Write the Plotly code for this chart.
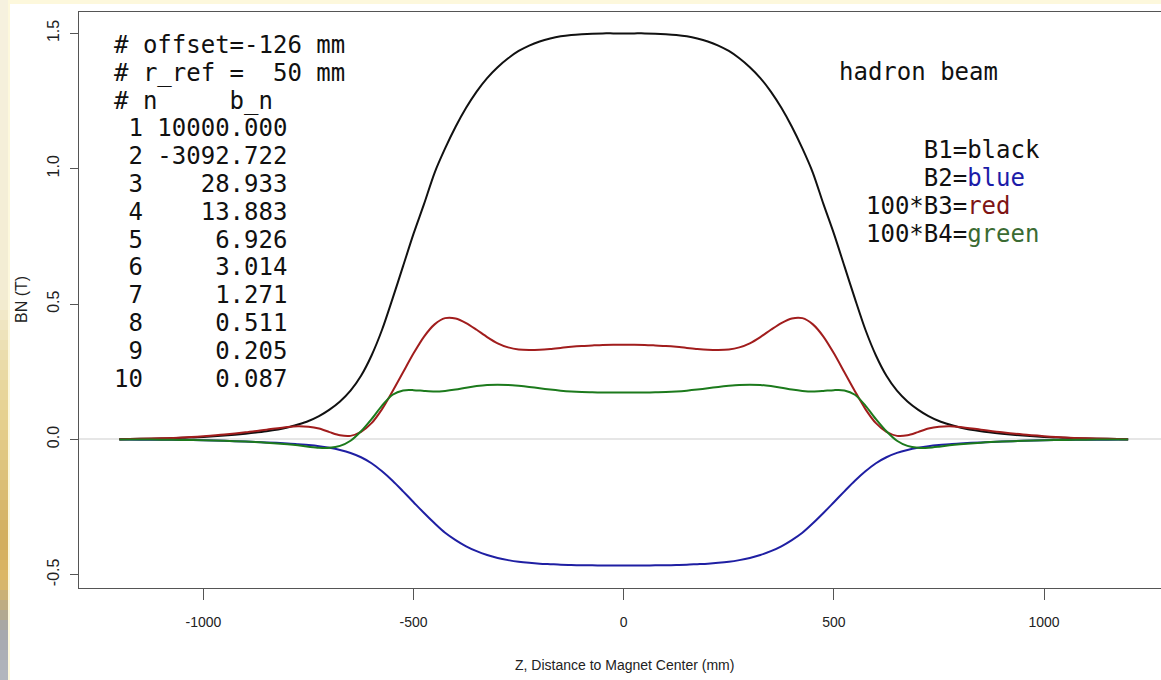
import plotly.graph_objects as go

# Longitudinal positions (mm from magnet centre)
z_mm = [-1200, -1150, -1100, -1050, -1000, -950, -900, -850, -800,
        -775, -750, -725, -700, -675, -650, -625, -600, -575, -550, -525, -500,
        -475, -450, -425, -400, -375, -350, -325, -300, -275, -250, -225, -200,
        -175, -150, -125, -100, -75, -50, -25, 0,
        25, 50, 75, 100, 125, 150, 175, 200, 225, 250, 275, 300, 325, 350, 375,
        400, 425, 450, 475, 500, 525, 550, 575, 600, 625, 650, 675, 700, 725,
        750, 775, 800, 850, 900, 950, 1000, 1050, 1100, 1150, 1200]

# B1 (dipole), tesla
b1 = [0.001, 0.002, 0.003, 0.006, 0.009, 0.014, 0.021, 0.030, 0.044,
      0.055, 0.068, 0.086, 0.110, 0.140, 0.180, 0.235, 0.310, 0.405, 0.520, 0.640, 0.760,
      0.870, 0.985, 1.075, 1.155, 1.225, 1.285, 1.335, 1.375, 1.408, 1.435, 1.455, 1.470,
      1.481, 1.489, 1.494, 1.497, 1.499, 1.500, 1.500, 1.500,
      1.500, 1.500, 1.499, 1.497, 1.494, 1.489, 1.481, 1.470, 1.455, 1.435, 1.408, 1.375,
      1.335, 1.285, 1.225, 1.155, 1.075, 0.985, 0.870, 0.760, 0.640, 0.520, 0.405, 0.310,
      0.235, 0.180, 0.140, 0.110, 0.086, 0.068, 0.055,
      0.044, 0.030, 0.021, 0.014, 0.009, 0.006, 0.003, 0.002, 0.001]

# B2 (quadrupole), tesla
b2 = [0.000, -0.001, -0.001, -0.002, -0.003, -0.005, -0.008, -0.011, -0.015,
      -0.018, -0.021, -0.025, -0.031, -0.039, -0.050, -0.066, -0.088, -0.118, -0.153, -0.192, -0.232,
      -0.272, -0.310, -0.345, -0.372, -0.395, -0.413, -0.427, -0.438, -0.446, -0.452, -0.456, -0.459,
      -0.461, -0.463, -0.464, -0.465, -0.465, -0.466, -0.466, -0.466,
      -0.466, -0.466, -0.465, -0.465, -0.464, -0.463, -0.461, -0.459, -0.456, -0.452, -0.446, -0.438,
      -0.427, -0.413, -0.395, -0.372, -0.345, -0.310, -0.272, -0.232, -0.192, -0.153, -0.118, -0.088,
      -0.066, -0.050, -0.039, -0.031, -0.025, -0.021, -0.018,
      -0.015, -0.011, -0.008, -0.005, -0.003, -0.002, -0.001, -0.001, 0.000]

# 100 * B3 (sextupole), tesla
b3x100 = [0.001, 0.002, 0.004, 0.007, 0.012, 0.018, 0.026, 0.036, 0.046,
          0.049, 0.047, 0.040, 0.027, 0.015, 0.013, 0.028, 0.060, 0.112, 0.178, 0.248, 0.318,
          0.380, 0.425, 0.448, 0.447, 0.430, 0.405, 0.378, 0.355, 0.340, 0.332, 0.330, 0.331,
          0.334, 0.338, 0.342, 0.345, 0.347, 0.349, 0.350, 0.350,
          0.350, 0.349, 0.347, 0.345, 0.342, 0.338, 0.334, 0.331, 0.330, 0.332, 0.340, 0.355,
          0.378, 0.405, 0.430, 0.447, 0.448, 0.425, 0.380, 0.318, 0.248, 0.178, 0.112, 0.060,
          0.028, 0.013, 0.015, 0.027, 0.040, 0.047, 0.049,
          0.046, 0.036, 0.026, 0.018, 0.012, 0.007, 0.004, 0.002, 0.001]

# 100 * B4 (octupole), tesla
b4x100 = [0.000, 0.000, -0.001, -0.002, -0.003, -0.005, -0.008, -0.012, -0.018,
          -0.022, -0.027, -0.031, -0.031, -0.024, -0.005, 0.030, 0.075, 0.125, 0.165, 0.181, 0.182,
          0.179, 0.177, 0.179, 0.184, 0.191, 0.197, 0.201, 0.202, 0.201, 0.198, 0.194, 0.189,
          0.184, 0.180, 0.177, 0.175, 0.174, 0.173, 0.173, 0.173,
          0.173, 0.173, 0.174, 0.175, 0.177, 0.180, 0.184, 0.189, 0.194, 0.198, 0.201, 0.202,
          0.201, 0.197, 0.191, 0.184, 0.179, 0.177, 0.179, 0.182, 0.181, 0.165, 0.125, 0.075,
          0.030, -0.005, -0.024, -0.031, -0.031, -0.027, -0.022,
          -0.018, -0.012, -0.008, -0.005, -0.003, -0.002, -0.001, 0.000, 0.000]

x_ticks = [-1000, -500, 0, 500, 1000]
x_tick_text = ["-1000", "-500", "0", "500", "1000"]
y_ticks = [-0.5, 0.0, 0.5, 1.0, 1.5]
y_tick_text = ["-0.5", "0.0", "0.5", "1.0", "1.5"]

header_lines = ["# offset=-126 mm", "# r_ref =  50 mm", "# n     b_n"]
harmonic_n = [1, 2, 3, 4, 5, 6, 7, 8, 9, 10]
harmonic_bn = ["10000.000", "-3092.722", "28.933", "13.883", "6.926",
               "3.014", "1.271", "0.511", "0.205", "0.087"]

beam_label = "hadron beam"
legend_entries = [("    B1=", "black", "#111111"),
                  ("    B2=", "blue", "#1c1ca8"),
                  ("100*B3=", "red", "#7e1414"),
                  ("100*B4=", "green", "#3b6b33")]

series = [(b1, "#111111"), (b2, "#1f1fa3"), (b3x100, "#a11d1d"), (b4x100, "#1c7a1c")]

W, H = 1161, 680
L, T, R, B = 79, 12, 0, 92
PW, PH = W - L - R, H - T - B


def fx(px):
    return (px - L) / PW


def fy(py):
    return 1 - (py - T) / PH


def nb(s):
    return s.replace(" ", "\u00a0")


fig = go.Figure()
for vals, col in series:
    fig.add_trace(go.Scatter(x=z_mm, y=vals, mode="lines",
                             line=dict(color=col, width=2, shape="spline", smoothing=0.8),
                             showlegend=False, hoverinfo="skip"))

mono = dict(family="DejaVu Sans Mono", size=24, color="#111111")
ann = []
rows = header_lines + [f"{n:>2} {v:>9}" for n, v in zip(harmonic_n, harmonic_bn)]
for i, txt in enumerate(rows):
    ann.append(dict(x=fx(112), y=fy(45 + 27.8 * i), xref="paper", yref="paper",
                    text=nb(txt), showarrow=False, xanchor="left", yanchor="middle",
                    font=mono))
ann.append(dict(x=fx(837), y=fy(72), xref="paper", yref="paper", text=nb(beam_label),
                showarrow=False, xanchor="left", yanchor="middle", font=mono))
for i, (pre, word, col) in enumerate(legend_entries):
    ann.append(dict(x=fx(864), y=fy(150 + 28 * i), xref="paper", yref="paper",
                    text=nb(pre) + f'<span style="color:{col}">{word}</span>',
                    showarrow=False, xanchor="left", yanchor="middle", font=mono))

ann.append(dict(x=fx(624), y=fy(665), xref="paper", yref="paper",
                text="Z, Distance to Magnet Center (mm)", showarrow=False,
                xanchor="center", yanchor="middle",
                font=dict(family="Liberation Sans, Arial", size=14, color="#222222")))
ann.append(dict(x=fx(21), y=fy(300), xref="paper", yref="paper", text="BN (T)",
                textangle=-90, showarrow=False, xanchor="center", yanchor="middle",
                font=dict(family="Liberation Sans, Arial", size=16, color="#222222")))

# slide frame: pale border and a warm strip along the left edge
shapes = [dict(type="rect", xref="paper", yref="paper", x0=fx(0), x1=fx(W), y0=fy(4), y1=fy(0),
               fillcolor="#fdf8dc", line=dict(width=0), layer="below"),
          dict(type="rect", xref="paper", yref="paper", x0=fx(0), x1=fx(10), y0=fy(H), y1=fy(0),
               fillcolor="#fdf8dc", line=dict(width=0), layer="below")]
stops = [(0, (246, 241, 223)), (300, (243, 236, 210)), (360, (234, 220, 170)),
         (420, (230, 208, 142)), (480, (220, 192, 120)), (540, (210, 173, 92)),
         (580, (221, 184, 102)), (610, (184, 170, 136)), (630, (164, 166, 172)),
         (680, (180, 184, 192))]


def strip_color(y):
    for (y0, c0), (y1, c1) in zip(stops[:-1], stops[1:]):
        if y0 <= y <= y1:
            t = (y - y0) / (y1 - y0)
            return "rgb(%d,%d,%d)" % tuple(round(a + (b - a) * t) for a, b in zip(c0, c1))
    return "rgb(%d,%d,%d)" % stops[-1][1]


for y in range(0, H, 10):
    shapes.append(dict(type="rect", xref="paper", yref="paper", x0=fx(0), x1=fx(8),
                       y0=fy(y + 10), y1=fy(y), fillcolor=strip_color(y + 5),
                       line=dict(width=0), layer="below"))

axis_font = dict(family="Liberation Sans, Arial", size=14, color="#222222")
fig.update_layout(
    width=W, height=H, margin=dict(l=L, r=R, t=T, b=B),
    paper_bgcolor="white", plot_bgcolor="white",
    annotations=ann, shapes=shapes,
    xaxis=dict(range=[-1296, (W - 623) / 0.4209], tickvals=x_ticks, ticktext=x_tick_text,
               ticks="outside", ticklen=11, tickcolor="#555555", tickwidth=1,
               showline=True, linecolor="#555555", linewidth=1.3, mirror=True,
               showgrid=False, zeroline=False, tickfont=axis_font,
               ticklabelstandoff=10),
    yaxis=dict(range=[-0.549, 1.579], tickvals=y_ticks, ticktext=y_tick_text,
               ticks="outside", ticklen=8, tickcolor="#555555", tickwidth=1,
               showline=True, linecolor="#555555", linewidth=1.3,
               showgrid=False, zeroline=True, zerolinecolor="#e6e6e6", zerolinewidth=2,
               tickangle=-90, tickfont=dict(family="Liberation Sans, Arial", size=16,
                                            color="#222222"),
               ticklabelstandoff=4),
)

fig.write_html("out.html")
